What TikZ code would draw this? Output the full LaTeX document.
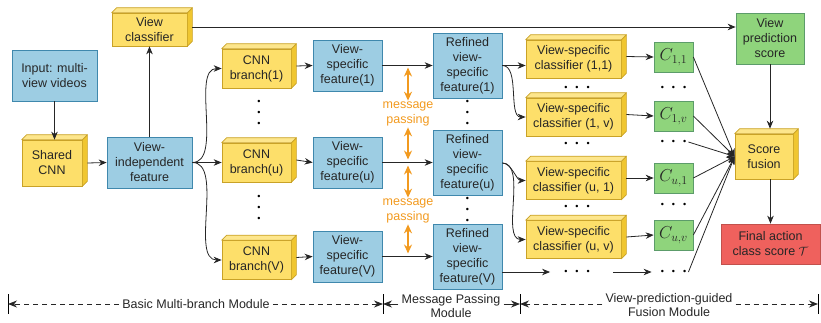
\documentclass[tikz,border=0pt]{standalone}
\usepackage{fontspec}
\setmainfont{Liberation Sans}
\usetikzlibrary{arrows.meta}

\definecolor{yelfill}{HTML}{FDDF6A}
\definecolor{yelline}{HTML}{C9A227}
\definecolor{yelside}{HTML}{F0C630}
\definecolor{yeltop}{HTML}{FDE68C}
\definecolor{bluefill}{HTML}{9DCDE3}
\definecolor{blueline}{HTML}{3F88AD}
\definecolor{greenfill}{HTML}{8FD47C}
\definecolor{greenline}{HTML}{5C9C6A}
\definecolor{redfill}{HTML}{EF615D}
\definecolor{redline}{HTML}{C2514C}
\definecolor{msgorange}{HTML}{F29A1F}

\newcommand{\rowofdots}{\textbullet\hspace{8pt}\textbullet\hspace{8pt}\textbullet}
\newcommand{\colofdots}{\textbullet\\\textbullet\\\textbullet}

\begin{document}
\begin{tikzpicture}[x=1pt,y=-1pt,
  box/.style={draw, line width=0.7pt, align=center, inner sep=1pt, text=black!85,
    font=\fontsize{12.5}{15}\selectfont},
  bluebox/.style={box, draw=blueline, fill=bluefill},
  cube/.style={box, draw=yelline, fill=yelfill},
  greenbox/.style={box, draw=greenline, fill=greenfill},
  redbox/.style={box, draw=redline, fill=redfill},
  cubeside/.style={draw=yelline, fill=yelside, line width=0.7pt, line join=round},
  cubetop/.style={draw=yelline, fill=yeltop, line width=0.7pt, line join=round},
  arr/.style={-{Stealth[length=8pt,width=6.5pt]}, line width=0.8pt, black!85},
  msgarr/.style={{Stealth[length=9pt,width=8pt]}-{Stealth[length=9pt,width=8pt]},
    line width=1.8pt, msgorange},
  msg/.style={align=center, inner sep=1pt, text=msgorange, font=\fontsize{12.5}{15}\selectfont},
  dotrow/.style={inner sep=2pt, font=\fontsize{9}{9}\selectfont},
  dotcol/.style={align=center, inner sep=0pt, font=\fontsize{9}{11}\selectfont},
  modarr/.style={-{Stealth[length=9pt,width=7pt]}, line width=0.8pt, black!85},
  modlabel/.style={align=center, inner sep=3pt, text=black!85, font=\fontsize{12.5}{14}\selectfont}
]
\useasboundingbox (0,0) rectangle (821,322);

% input and shared part
\node[bluebox, minimum width=85pt, minimum height=51pt] (input) at (54.5,75.5) {Input: multi-\\view videos};
\node[cube, minimum width=60pt, minimum height=46pt] (shared) at (52,163) {Shared\\CNN};
\node[bluebox, minimum width=85pt, minimum height=51pt] (vif) at (149.5,162.5) {View-\\independent\\feature};
\node[cube, minimum width=75pt, minimum height=33pt] (vclass) at (149.5,29.5) {View\\classifier};

% CNN branches
\node[cube, minimum width=69pt, minimum height=39pt] (br1) at (256.5,68.5) {CNN\\branch(1)};
\node[cube, minimum width=69pt, minimum height=39pt] (bru) at (256.5,162.5) {CNN\\branch(u)};
\node[cube, minimum width=69pt, minimum height=39pt] (brV) at (256.5,260) {CNN\\branch(V)};

% view-specific features
\node[bluebox, minimum width=69pt, minimum height=51pt] (vsf1) at (347.5,65.5) {View-\\specific\\feature(1)};
\node[bluebox, minimum width=69pt, minimum height=51pt] (vsfu) at (347.5,162.5) {View-\\specific\\feature(u)};
\node[bluebox, minimum width=69pt, minimum height=51pt] (vsfV) at (347.5,256.5) {View-\\specific\\feature(V)};

% refined features
\node[bluebox, minimum width=69pt, minimum height=65pt] (rf1) at (467.5,65.5) {Refined\\view-\\specific\\feature(1)};
\node[bluebox, minimum width=69pt, minimum height=65pt] (rfu) at (467.5,163) {Refined\\view-\\specific\\feature(u)};
\node[bluebox, minimum width=69pt, minimum height=65pt] (rfV) at (467.5,256.5) {Refined\\view-\\specific\\feature(V)};

% view-specific classifiers
\node[cube, minimum width=95pt, minimum height=38pt] (vsc11) at (573.5,59) {View-specific\\classifier (1,1)};
\node[cube, minimum width=95pt, minimum height=38pt] (vsc1v) at (573.5,117) {View-specific\\classifier (1, v)};
\node[cube, minimum width=95pt, minimum height=38pt] (vscu1) at (573.5,180.5) {View-specific\\classifier (u, 1)};
\node[cube, minimum width=95pt, minimum height=38pt] (vscuv) at (573.5,239.5) {View-specific\\classifier (u, v)};

% class scores
\node[greenbox, minimum width=39pt, minimum height=30pt, font=\fontsize{17}{17}\selectfont] (C11) at (673.5,57) {$C_{1,1}$};
\node[greenbox, minimum width=39pt, minimum height=30pt, font=\fontsize{17}{17}\selectfont] (C1v) at (673.5,116) {$C_{1,v}$};
\node[greenbox, minimum width=39pt, minimum height=30pt, font=\fontsize{17}{17}\selectfont] (Cu1) at (673.5,178) {$C_{u,1}$};
\node[greenbox, minimum width=39pt, minimum height=30pt, font=\fontsize{17}{17}\selectfont] (Cuv) at (673.5,235) {$C_{u,v}$};

% fusion
\node[greenbox, minimum width=68pt, minimum height=51pt] (vps) at (770,38.5) {View\\prediction\\score};
\node[cube, minimum width=58pt, minimum height=45pt] (fusion) at (764,156.5) {Score\\fusion};
\node[redbox, minimum width=99pt, minimum height=40pt] (final) at (770.5,244) {Final action\\class score $\mathcal{T}$};

% 3d faces of the yellow boxes
\foreach \n in {vclass,shared,br1,bru,brV,vsc11,vsc1v,vscu1,vscuv,fusion}{
  \filldraw[cubeside] (\n.north east) -- ++(5,-5) -- ([shift={(5,-5)}]\n.south east) -- (\n.south east) -- cycle;
  \filldraw[cubetop] (\n.north west) -- ++(5,-5) -- ([shift={(5,-5)}]\n.north east) -- (\n.north east) -- cycle;
}

% dots
\node[dotcol] (dbr1) at (259,113) {\colofdots};
\node[dotcol] (dbr2) at (259,208.5) {\colofdots};
\node[dotcol] (drf1) at (467.5,113) {\colofdots};
\node[dotcol] (drf2) at (467.5,210.5) {\colofdots};
\node[dotrow] (dvs1) at (577,88) {\rowofdots};
\node[dotrow] (dvs2) at (577,144) {\rowofdots};
\node[dotrow] (dvs3) at (577,207) {\rowofdots};
\node[dotrow] (dvs4) at (577,272) {\rowofdots};
\node[dotrow] (dC1) at (673.5,88) {\rowofdots};
\node[dotrow] (dC2) at (673.5,142) {\rowofdots};
\node[dotrow] (dC3) at (673.5,205) {\rowofdots};
\node[dotrow] (dC4) at (673.5,272) {\rowofdots};

% message passing
\node[msg] (msg1) at (408,114) {message\\passing};
\node[msg] (msg2) at (408,211) {message\\passing};
\draw[msgarr, shorten >=2pt] (msg1.north) -- (msg1.north |- vsf1.east);
\draw[msgarr, shorten >=3pt] (msg1.south) -- (msg1.south |- vsfu.east);
\draw[msgarr, shorten >=3pt] (msg2.north) -- (msg2.north |- vsfu.east);
\draw[msgarr, shorten >=3pt] (msg2.south) -- (msg2.south |- vsfV.east);

% connectors
\draw[arr] (input) -- (input.south |- shared.north);
\draw[arr] ([xshift=5pt]shared.east) -- (vif.west);
\draw[arr] (vif.north) -- (vclass.south);
\coordinate (vcout) at ([shift={(5,-2.5)}]vclass.east);
\draw[arr] (vcout) -- (vcout -| vps.west);
\draw[arr] (vif.east) to[out=0,in=180,looseness=0.8] (br1.west);
\draw[arr] (vif.east) -- (bru.west);
\draw[arr] (vif.east) to[out=0,in=180,looseness=0.8] (brV.west);
\foreach \a/\b in {br1/vsf1,bru/vsfu,brV/vsfV,vsc11/C11,vsc1v/C1v,vscu1/Cu1,vscuv/Cuv}
  \draw[arr] ([shift={(5,-2.5)}]\a.east) -- (\b.west);
\draw[arr] (vsf1) -- (rf1);
\draw[arr] (vsfu) -- (vsfu -| rfu.west);
\draw[arr] (vsfV) -- (rfV);
\draw[arr] (rf1.east) -- (rf1.east -| vsc11.west);
\draw[arr] (rf1.east) to[out=0,in=180,looseness=0.8] (vsc1v.west);
\draw[arr] (rfu.east) to[out=0,in=180,looseness=0.8] (vscu1.west);
\draw[arr] (rfu.east) to[out=0,in=180,looseness=0.8] (vscuv.west);
\draw[arr, shorten >=12pt] (rfV.east |- dvs4) -- (dvs4.west);
\draw[arr, shorten <=21pt, shorten >=7pt] (dvs4.east) -- (dC4.west);
\foreach \c in {C11,C1v,dC2,Cu1,Cuv,dC4}
  \draw[arr] (\c.east) -- (fusion.west);
\coordinate (fustop) at ([yshift=5pt]fusion.north);
\draw[arr] (vps.south) -- (vps.south |- fustop);
\draw[arr] (final.north |- fusion.south) -- (final.north);

% modules
\coordinate (tickL) at (8,304);
\coordinate (tickM) at (383,304);
\coordinate (tickN) at (520,304);
\coordinate (tickR) at (818,304);
\foreach \t in {tickL,tickM,tickN,tickR}
  \draw[line width=0.8pt] ([yshift=10pt]\t) -- ([yshift=-10pt]\t);
\node[modlabel] (basic) at (196,304) {Basic Multi-branch Module};
\node[modlabel] (mpmod) at (451,306.5) {Message Passing\\Module};
\node[modlabel] (fumod) at (669,305.5) {View-prediction-guided\\Fusion Module};
\draw[modarr, dash pattern=on 5pt off 4pt] (basic.west) -- (tickL);
\draw[modarr, dash pattern=on 5pt off 4pt] (basic.east) -- (tickM);
\draw[modarr] (mpmod.west |- tickM) -- (tickM);
\draw[modarr] (mpmod.east |- tickN) -- (tickN);
\draw[modarr, dash pattern=on 5pt off 4pt] (fumod.west |- tickN) -- (tickN);
\draw[modarr, dash pattern=on 5pt off 4pt] (fumod.east |- tickR) -- (tickR);

\end{tikzpicture}
\end{document}
